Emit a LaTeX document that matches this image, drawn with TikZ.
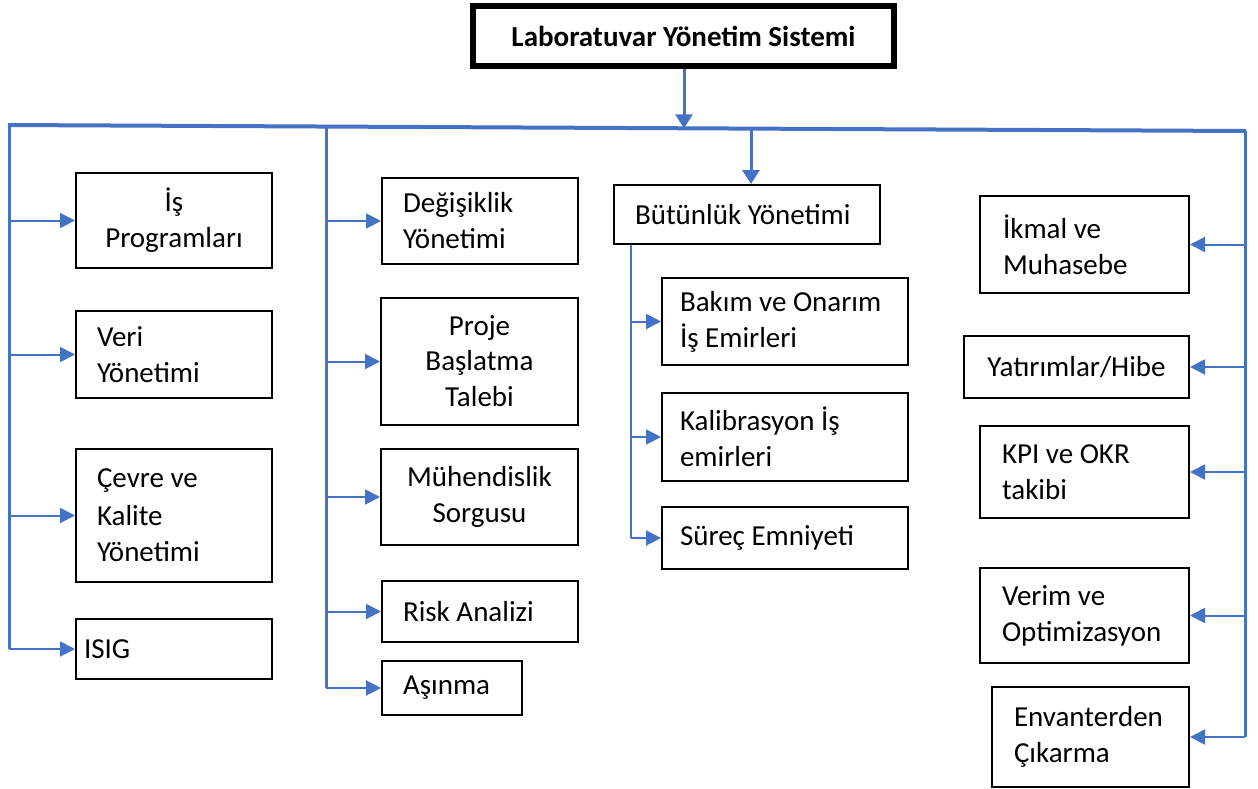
\documentclass[tikz,border=0pt]{standalone}
\usepackage{fontspec}
\setmainfont{Carlito}
\usetikzlibrary{arrows.meta}
\definecolor{lb}{HTML}{4472C4}
\tikzset{
  bx/.style={draw=black, line width=2pt, font=\fontsize{29}{36}\selectfont, anchor=north west, inner ysep=0pt},
  titlebox/.style={draw=black, line width=6pt, font=\fontsize{29}{35}\selectfont\bfseries, minimum width=421pt, minimum height=60pt},
  bus/.style={draw=lb, line width=4pt},
  vbus/.style={draw=lb, line width=3pt},
  thinv/.style={draw=lb, line width=1.5pt},
  br/.style={draw=lb, line width=2pt, -{Triangle[length=15pt,width=15pt]}},
  bigarr/.style={draw=lb, line width=3pt, -{Triangle[length=14pt,width=17pt]}},
}
\newcommand\mybox[8]{%
  \pgfmathsetmacro\bw{#4-#2}\pgfmathsetmacro\bh{#5-#3}\pgfmathsetmacro\tw{#4-#2-2*#7}%
  \node[bx, minimum width=\bw pt, minimum height=\bh pt, text width=\tw pt, inner xsep=#7pt, align=#6] (#1) at (#2,#3) {#8};}
\begin{document}
\begin{tikzpicture}[x=1pt,y=-1pt]
\useasboundingbox (0,0) rectangle (1258,788);
% title
\node[titlebox] (title) at (683.5,36) {Laboratuvar Yönetim Sistemi};
% bus
\coordinate (busL) at (8,125);
\coordinate (busR) at (1246,131);
\coordinate (tp) at (684,128.3);
\coordinate (lt) at (9,125);
\coordinate (mt) at (326,126.5);
\coordinate (rt) at (1245,131);
\coordinate (b2) at (751,130);
\draw[bus] (busL) -- (busR);
\draw[bigarr] (title.south -| tp) -- (tp);
% left column boxes
\mybox{is}{75}{172}{271}{267}{flush center}{5}{İş\\Programları}
\mybox{veri}{75}{310}{271}{397}{flush left}{21}{Veri\\Yönetimi}
\mybox{cevre}{75}{448}{271}{581}{flush left}{21}{\baselineskip=38pt Çevre ve\\Kalite\\Yönetimi}
\mybox{isig}{75}{618}{271}{678}{flush left}{8}{ISIG}
% second column boxes
\mybox{deg}{381}{177}{577}{263}{flush left}{21}{Değişiklik\\Yönetimi}
\mybox{proje}{380}{297}{577}{424}{flush center}{5}{\baselineskip=35pt Proje\\Başlatma\\Talebi}
\mybox{muh}{380}{448}{577}{544}{flush center}{5}{Mühendislik\\Sorgusu}
\mybox{risk}{381}{580}{577}{641}{flush left}{21}{Risk Analizi}
\mybox{asin}{381}{660}{521}{714}{flush left}{21}{Aşınma}
% third column boxes
\mybox{but}{613}{184}{879}{243}{flush left}{21}{Bütünlük Yönetimi}
\mybox{bak}{661}{277}{907}{364}{flush left}{18}{\baselineskip=35pt Bakım ve Onarım\\İş Emirleri}
\mybox{kal}{661}{392}{907}{480}{flush left}{18}{\baselineskip=35pt Kalibrasyon İş\\emirleri}
\mybox{sur}{661}{506}{907}{568}{flush left}{18}{Süreç Emniyeti}
% right column boxes
\mybox{ikm}{979}{195}{1188}{292}{flush left}{23}{İkmal ve\\Muhasebe}
\mybox{yat}{963}{335}{1188}{397}{flush center}{5}{Yatırımlar/Hibe}
\mybox{kpi}{979}{425}{1188}{517}{flush left}{22}{KPI ve OKR\\takibi}
\mybox{ver}{979}{567}{1188}{662}{flush left}{22}{Verim ve\\Optimizasyon}
\mybox{env}{991}{686}{1188}{786}{flush left}{22}{Envanterden\\Çıkarma}
% left column connectors
\draw[vbus] (lt) -- (lt |- isig.west);
\foreach \b in {is,veri,cevre,isig}{\draw[br] (lt |- \b.west) -- (\b.west);}
% second column connectors
\draw[vbus] (mt) -- (mt |- asin.west);
\foreach \b in {deg,proje,muh,risk,asin}{\draw[br] (mt |- \b.west) -- (\b.west);}
% third column
\draw[bigarr] (b2) -- (b2 |- but.north);
\coordinate (bt) at ([xshift=18pt]but.south west);
\draw[thinv] (bt) -- (bt |- sur.west);
\foreach \b in {bak,kal,sur}{\draw[br] (bt |- \b.west) -- (\b.west);}
% right column
\draw[vbus] (rt) -- (rt |- env.east);
\foreach \b in {ikm,yat,kpi,ver,env}{\draw[br] (rt |- \b.east) -- (\b.east);}
\end{tikzpicture}
\end{document}
